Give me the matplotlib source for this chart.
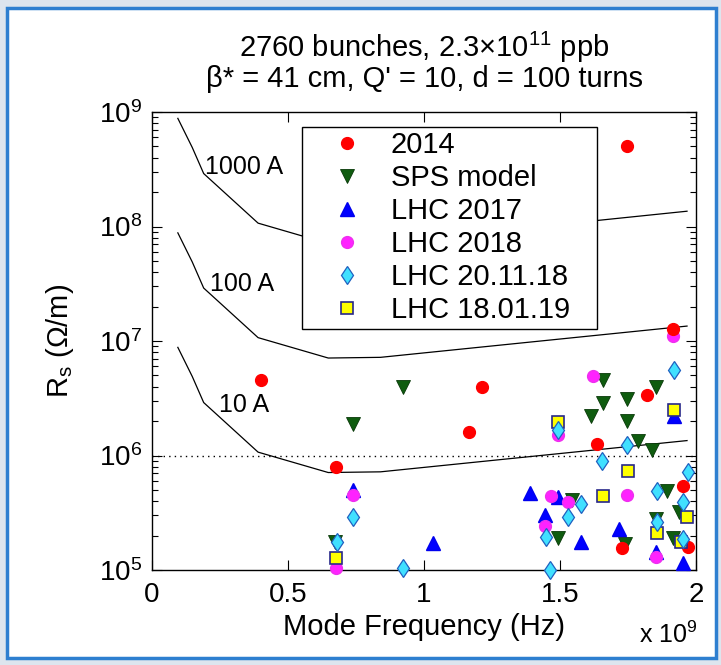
import matplotlib
matplotlib.use("Agg")
import matplotlib.pyplot as plt
from matplotlib.ticker import LogLocator, FixedLocator, FormatStrFormatter
from matplotlib.patches import Rectangle

plt.rcParams['font.family'] = ['Liberation Sans', 'DejaVu Sans']
plt.rcParams['mathtext.fontset'] = 'custom'
plt.rcParams['mathtext.rm'] = 'Liberation Sans'
plt.rcParams['mathtext.it'] = 'Liberation Sans:italic'

# threshold curves (frequency in units of 1e9 Hz, Rs in Ohm/m)
curve_f = [0.095, 0.148, 0.19, 0.39, 0.648, 0.84, 1.967]
curve_10A = [8.8e6, 4.9e6, 2.9e6, 1.07e6, 7.1e5, 7.2e5, 1.35e6]
curve_100A = [8.8e7, 4.9e7, 2.9e7, 1.07e7, 7.1e6, 7.2e6, 1.35e7]
curve_1000A = [8.8e8, 4.9e8, 2.9e8, 1.07e8, 7.1e7, 7.2e7, 1.36e8]

# measured / modelled impedances
f_2014 = [0.40, 0.676, 1.165, 1.213, 1.636, 1.746, 1.728, 1.82, 1.915, 1.952, 1.971]
r_2014 = [4.6e6, 7.9e5, 1.6e6, 4.0e6, 1.26e6, 5.0e8, 1.55e5, 3.4e6, 1.27e7, 5.4e5, 1.6e5]

f_sps = [0.673, 0.739, 0.923, 1.493, 1.544, 1.614, 1.658, 1.658, 1.739, 1.746, 1.746,
         1.787, 1.838, 1.853, 1.853, 1.893, 1.915, 1.937]
r_sps = [1.76e5, 1.87e6, 4.0e6, 1.9e5, 4.1e5, 2.2e6, 4.6e6, 2.9e6, 1.7e5, 3.1e6, 2.0e6,
         1.35e6, 1.12e6, 4.0e6, 2.8e5, 4.9e5, 1.9e5, 3.2e5]

f_2017 = [0.739, 1.033, 1.39, 1.445, 1.493, 1.577, 1.717, 1.853, 1.919, 1.952]
r_2017 = [5.0e5, 1.73e5, 4.7e5, 3.0e5, 4.3e5, 1.76e5, 2.3e5, 1.45e5, 2.2e6, 1.15e5]

f_2018 = [0.676, 0.739, 1.445, 1.467, 1.493, 1.53, 1.621, 1.746, 1.853, 1.915]
r_2018 = [1.05e5, 4.5e5, 2.4e5, 4.4e5, 1.5e6, 3.9e5, 4.9e6, 4.5e5, 1.3e5, 1.1e7]

f_201118 = [0.68, 0.739, 0.923, 1.449, 1.463, 1.493, 1.53, 1.577, 1.654, 1.746,
            1.857, 1.857, 1.919, 1.952, 1.952, 1.971]
r_201118 = [1.74e5, 2.9e5, 1.05e5, 1.95e5, 1.0e5, 1.66e6, 2.9e5, 3.8e5, 8.9e5, 1.23e6,
            4.9e5, 2.6e5, 5.6e6, 3.9e5, 1.86e5, 7.2e5]

f_180119 = [0.676, 1.493, 1.658, 1.75, 1.857, 1.919, 1.945, 1.967]
r_180119 = [1.27e5, 1.95e6, 4.4e5, 7.3e5, 2.1e5, 2.5e6, 1.76e5, 2.9e5]

fig = plt.figure(figsize=(7.21, 6.65), dpi=100, facecolor='#dde5ee')
frame = Rectangle((7 / 721, 7 / 665), 709 / 721, 650 / 665, transform=fig.transFigure,
                  facecolor='white', edgecolor='#2e7fd0', linewidth=2.5, zorder=-10)
fig.add_artist(frame)
ax = fig.add_axes([152 / 721, 1 - 570 / 665, 544 / 721, 458 / 665])
ax.set_zorder(1)

ax.plot(curve_f, curve_10A, color='black', lw=0.9, zorder=2)
ax.plot(curve_f, curve_100A, color='black', lw=0.9, zorder=2)
ax.plot(curve_f, curve_1000A, color='black', lw=0.9, zorder=2)
ax.axhline(1e6, color='black', ls=(0, (1, 3)), lw=1.0, zorder=2)

ax.text(0.34, 10 ** 8.52, '1000 A', fontsize=18, ha='center', va='center')
ax.text(0.33, 10 ** 7.50, '100 A', fontsize=18, ha='center', va='center')
ax.text(0.34, 10 ** 6.44, '10 A', fontsize=18, ha='center', va='center')

ax.plot(f_2014, r_2014, 'o', ms=8.5, color='#ff0000', mec='#ff0000', label='2014', zorder=5, clip_on=False)
ax.plot(f_sps, r_sps, 'v', ms=9.5, color='#0f5c0f', mec='#083808', mew=0.6, label='SPS model', zorder=4, clip_on=False)
ax.plot(f_2017, r_2017, '^', ms=9.5, color='#0000ff', mec='#0000ee', label='LHC 2017', zorder=4, clip_on=False)
ax.plot(f_2018, r_2018, 'o', ms=8.5, color='#ff22ff', mec='#ee30ee', label='LHC 2018', zorder=4, clip_on=False)
ax.plot(f_201118, r_201118, 'd', ms=9.5, color='#40e0ff', mec='#2060c0', mew=0.9, label='LHC 20.11.18', zorder=6, clip_on=False)
ax.plot(f_180119, r_180119, 's', ms=8, color='#ffff00', mec='#28288a', mew=1.2, label='LHC 18.01.19', zorder=5, clip_on=False)

ax.set_yscale('log')
ax.set_xlim(0, 2)
ax.set_ylim(1e5, 1e9)
ax.xaxis.set_major_locator(FixedLocator([0, 0.5, 1, 1.5, 2]))
ax.xaxis.set_major_formatter(FormatStrFormatter('%g'))
ax.yaxis.set_major_locator(LogLocator(base=10, numticks=10))
ax.yaxis.set_minor_locator(LogLocator(base=10, subs=range(2, 10), numticks=10))
ax.tick_params(which='both', direction='in', top=True, right=True, labelsize=20, width=0.8)
ax.tick_params(which='major', length=7, pad=7)
ax.tick_params(axis='x', which='major', pad=9)
ax.tick_params(which='minor', length=4)
for s in ax.spines.values():
    s.set_linewidth(1.0)

ax.set_xlabel('Mode Frequency (Hz)', fontsize=21)
ax.xaxis.set_label_coords(0.5, -0.094)
ax.set_ylabel('R$_\\mathrm{s}$ (Ω/m)', fontsize=21)
ax.yaxis.set_label_coords(-0.14, 0.5)
ax.set_title("2760 bunches, 2.3$\\times$10$^{11}$ ppb\nβ* = 41 cm, Q' = 10, d = 100 turns",
             fontsize=21, pad=18, linespacing=1.0)
fig.text(668 / 721, 1 - 635 / 665, 'x 10$^{9}$', fontsize=18, ha='center', va='center')

leg = ax.legend(loc='upper left', bbox_to_anchor=(0.2757, 0.528, 0.5423, 0.439), mode='expand',
                fontsize=21, frameon=True, fancybox=False, edgecolor='black', framealpha=1,
                borderpad=0.15, labelspacing=0.17, handletextpad=0.1, handlelength=2.8,
                borderaxespad=0)
leg.get_frame().set_linewidth(1.0)
leg.set_zorder(10)

fig.savefig('out.png', dpi=100, facecolor=fig.get_facecolor())
